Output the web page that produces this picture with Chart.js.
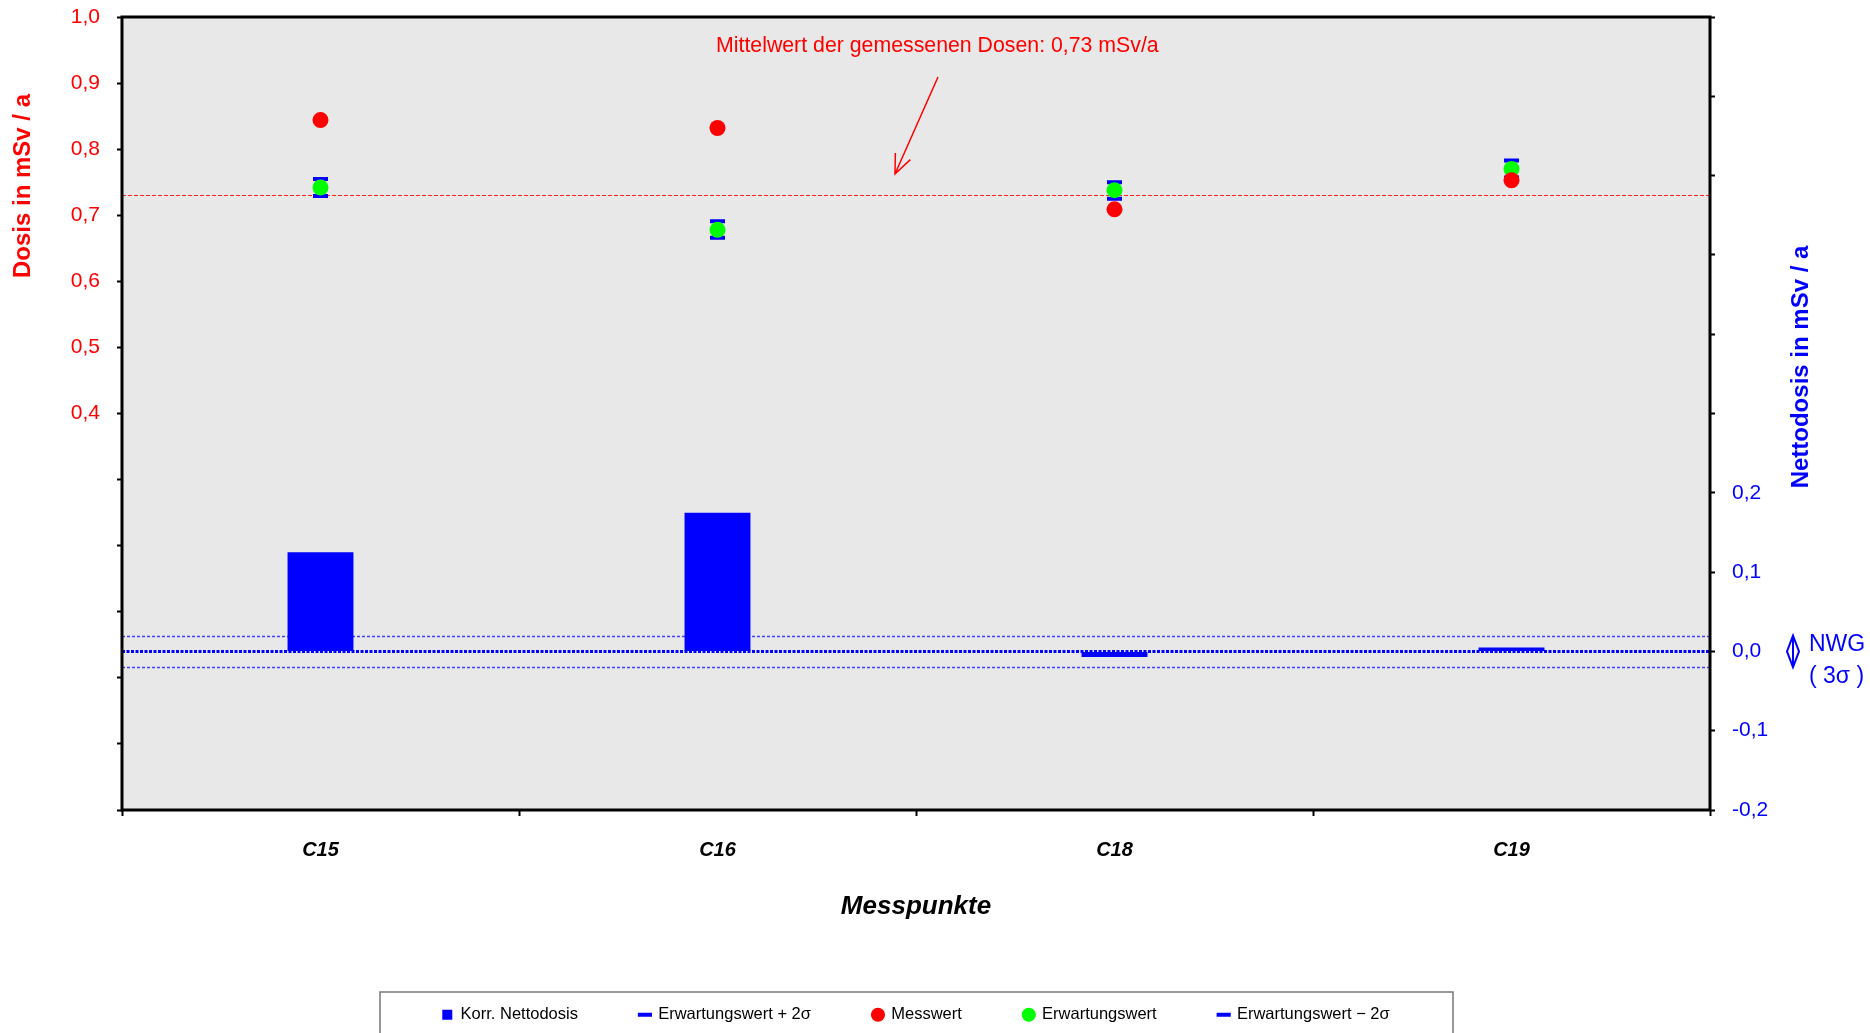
<!DOCTYPE html>
<html>
<head>
<meta charset="utf-8">
<script src="https://cdn.jsdelivr.net/npm/chart.js@4.4.0/dist/chart.umd.min.js"></script>
<style>
  html, body { margin: 0; padding: 0; background: #fff; }
</style>
</head>
<body>
<canvas id="chart" width="1870" height="1033"></canvas>
<script>
// data
const categories = ['C15', 'C16', 'C18', 'C19'];
const nettodosis = [0.125, 0.175, -0.007, 0.005];
const messwert = [0.844, 0.832, 0.709, 0.753];
const erwartungswert = [0.742, 0.678, 0.738, 0.770];
const erwartungPlus2s = [0.755, 0.691, 0.750, 0.783];
const erwartungMinus2s = [0.729, 0.666, 0.725, 0.757];
const mittelwert = 0.73;
const nwg = 0.02;
const leftTickLabels = ['0,4', '0,5', '0,6', '0,7', '0,8', '0,9', '1,0'];
const rightTickLabels = ['-0,2', '-0,1', '0,0', '0,1', '0,2'];

const FONT = '"Liberation Sans", Arial, sans-serif';
const fmt = v => (Math.abs(v) < 1e-9 ? 0 : v).toFixed(1).replace('.', ',');

const canvas = document.getElementById('chart');
const ctx = canvas.getContext('2d');

// background, reference lines, frame and text annotations
const decor = {
  id: 'decor',
  beforeDraw(chart) {
    const { ctx, chartArea: a } = chart;
    ctx.save();
    ctx.fillStyle = '#e8e8e8';
    ctx.fillRect(a.left, a.top, a.right - a.left, a.bottom - a.top);
    ctx.restore();
  },
  beforeDatasetsDraw(chart) {
    const { ctx, chartArea: a, scales } = chart;
    const hline = (y, color, width, dash) => {
      ctx.save();
      ctx.strokeStyle = color;
      ctx.lineWidth = width;
      ctx.setLineDash(dash);
      ctx.beginPath();
      ctx.moveTo(a.left, y);
      ctx.lineTo(a.right, y);
      ctx.stroke();
      ctx.restore();
    };
    hline(Math.round(scales.y.getPixelForValue(mittelwert)) + 0.5, '#ff2020', 1, [4, 2]);
    hline(Math.round(scales.y2.getPixelForValue(nwg)) + 0.5, '#4040ff', 1.5, [3, 2]);
    hline(Math.round(scales.y2.getPixelForValue(-nwg)) + 0.5, '#4040ff', 1.5, [3, 2]);
  },
  afterDatasetsDraw(chart) {
    const { ctx, chartArea: a, scales } = chart;
    const y0 = scales.y2.getPixelForValue(0);
    ctx.save();
    ctx.strokeStyle = '#0000ff';
    ctx.lineWidth = 3;
    ctx.setLineDash([3, 1.5]);
    ctx.beginPath();
    ctx.moveTo(a.left, y0);
    ctx.lineTo(a.right, y0);
    ctx.stroke();
    ctx.restore();
  },
  afterDraw(chart) {
    const { ctx, chartArea: a, scales } = chart;
    ctx.save();
    // plot frame
    ctx.strokeStyle = '#000';
    ctx.lineWidth = 3;
    ctx.strokeRect(a.left, a.top, a.right - a.left, a.bottom - a.top);

    // mean annotation
    ctx.fillStyle = '#ff0000';
    ctx.font = '21.3px ' + FONT;
    ctx.textAlign = 'left';
    ctx.textBaseline = 'alphabetic';
    ctx.fillText('Mittelwert der gemessenen Dosen: 0,73 mSv/a', 716, 52);
    const x1 = 938, y1 = 77, x2 = 895, y2 = 174;
    const ang = Math.atan2(y2 - y1, x2 - x1);
    ctx.strokeStyle = '#ff0000';
    ctx.lineWidth = 1.5;
    ctx.beginPath();
    ctx.moveTo(x1, y1);
    ctx.lineTo(x2, y2);
    ctx.moveTo(x2 - 21 * Math.cos(ang - 0.4), y2 - 21 * Math.sin(ang - 0.4));
    ctx.lineTo(x2, y2);
    ctx.lineTo(x2 - 21 * Math.cos(ang + 0.4), y2 - 21 * Math.sin(ang + 0.4));
    ctx.stroke();

    // axis titles
    ctx.textAlign = 'center';
    ctx.textBaseline = 'middle';
    ctx.save();
    ctx.translate(23, 186);
    ctx.rotate(-Math.PI / 2);
    ctx.font = 'bold 24px ' + FONT;
    ctx.fillStyle = '#ff0000';
    ctx.fillText('Dosis in mSv / a', 0, 0);
    ctx.restore();
    ctx.save();
    ctx.translate(1801, 367);
    ctx.rotate(-Math.PI / 2);
    ctx.font = 'bold 24px ' + FONT;
    ctx.fillStyle = '#0000ff';
    ctx.fillText('Nettodosis in mSv / a', 0, 0);
    ctx.restore();
    ctx.font = 'italic bold 26px ' + FONT;
    ctx.fillStyle = '#000';
    ctx.fillText('Messpunkte', (a.left + a.right) / 2, 907);

    // NWG bracket
    const yt = scales.y2.getPixelForValue(nwg);
    const yb = scales.y2.getPixelForValue(-nwg);
    const ym = (yt + yb) / 2;
    const bx = 1793;
    ctx.strokeStyle = '#0000ff';
    ctx.lineWidth = 2;
    ctx.beginPath();
    ctx.moveTo(bx, yt);
    ctx.lineTo(bx - 6, ym);
    ctx.lineTo(bx, yb);
    ctx.lineTo(bx + 6, ym);
    ctx.closePath();
    ctx.moveTo(bx, yt);
    ctx.lineTo(bx, yb);
    ctx.stroke();
    ctx.fillStyle = '#0000ff';
    ctx.font = '23px ' + FONT;
    ctx.textAlign = 'left';
    ctx.fillText('NWG', 1809, 645);
    ctx.fillText('( 3σ )', 1809, 677);

    // legend frame
    ctx.strokeStyle = '#777';
    ctx.lineWidth = 1.5;
    ctx.beginPath();
    ctx.moveTo(380, 1040);
    ctx.lineTo(380, 992);
    ctx.lineTo(1453, 992);
    ctx.lineTo(1453, 1040);
    ctx.stroke();
    ctx.restore();
  }
};

const pointDefaults = { type: 'line', showLine: false, yAxisID: 'y', borderWidth: 0 };

new Chart(ctx, {
  type: 'bar',
  data: {
    labels: categories,
    datasets: [
      {
        label: 'Korr. Nettodosis',
        data: nettodosis,
        yAxisID: 'y2',
        backgroundColor: '#0000ff',
        categoryPercentage: 1,
        barPercentage: 0.166,
        pointStyle: 'rect',
        order: 4
      },
      {
        ...pointDefaults,
        label: 'Erwartungswert + 2σ',
        data: erwartungPlus2s,
        pointStyle: 'line',
        pointRadius: 7.5,
        pointHoverRadius: 7.5,
        borderWidth: 4,
        borderColor: '#0000ff',
        backgroundColor: '#0000ff',
        order: 3
      },
      {
        ...pointDefaults,
        label: 'Messwert',
        data: messwert,
        pointStyle: 'circle',
        pointRadius: 8,
        pointHoverRadius: 8,
        backgroundColor: '#ff0000',
        borderColor: '#ff0000',
        order: 0
      },
      {
        ...pointDefaults,
        label: 'Erwartungswert',
        data: erwartungswert,
        pointStyle: 'circle',
        pointRadius: 8,
        pointHoverRadius: 8,
        backgroundColor: '#00ff00',
        borderColor: '#00ff00',
        order: 1
      },
      {
        ...pointDefaults,
        label: 'Erwartungswert − 2σ',
        data: erwartungMinus2s,
        pointStyle: 'line',
        pointRadius: 7.5,
        pointHoverRadius: 7.5,
        borderWidth: 4,
        borderColor: '#0000ff',
        backgroundColor: '#0000ff',
        order: 2
      }
    ]
  },
  options: {
    responsive: false,
    animation: false,
    layout: { padding: { top: 17, left: 0, right: 38, bottom: 0 } },
    scales: {
      x: {
        grid: { offset: true, drawOnChartArea: false, tickLength: 6, tickWidth: 2, tickColor: '#000' },
        border: { display: false },
        ticks: { color: '#000', font: { family: FONT, size: 20, weight: 'bold', style: 'italic' }, padding: 22 },
        afterFit(s) {
          const lg = s.chart.legend;
          s.height = s.chart.height - 810 - (lg ? lg.height : 0);
        }
      },
      y: {
        position: 'left',
        min: -0.2,
        max: 1.0,
        grid: { drawOnChartArea: false, tickLength: 5, tickWidth: 2, tickColor: '#000' },
        border: { display: false },
        ticks: {
          stepSize: 0.1,
          autoSkip: false,
          color: '#ff0000',
          padding: 17,
          font: { family: FONT, size: 21 },
          callback: v => leftTickLabels.includes(fmt(v)) ? fmt(v) : ''
        },
        afterFit(s) { s.width = 122; s.paddingTop = 0; s.paddingBottom = 0; }
      },
      y2: {
        position: 'right',
        min: -0.2,
        max: 0.8,
        grid: { drawOnChartArea: false, tickLength: 5, tickWidth: 2, tickColor: '#000' },
        border: { display: false },
        ticks: {
          stepSize: 0.1,
          autoSkip: false,
          color: '#0000ff',
          padding: 17,
          font: { family: FONT, size: 21 },
          callback: v => rightTickLabels.includes(fmt(v)) ? fmt(v) : ''
        },
        afterFit(s) { s.width = 122; s.paddingTop = 0; s.paddingBottom = 0; }
      }
    },
    plugins: {
      legend: {
        position: 'bottom',
        labels: {
          usePointStyle: true,
          boxWidth: 10,
          boxHeight: 10,
          padding: 62,
          color: '#000',
          font: { family: FONT, size: 16.5 },
          sort: (a, b) => a.datasetIndex - b.datasetIndex
        }
      },
      tooltip: { enabled: false }
    }
  },
  plugins: [decor]
});
</script>
</body>
</html>
